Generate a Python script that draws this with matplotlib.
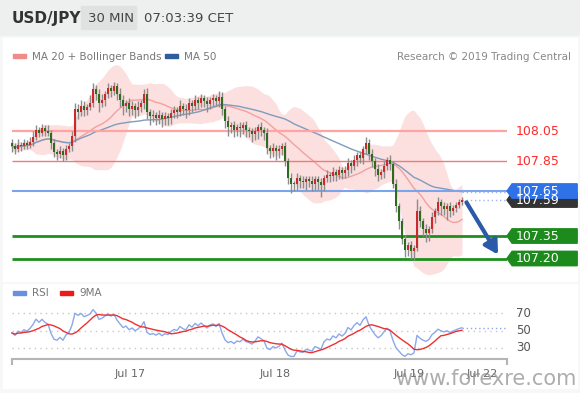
import numpy as np
import pandas as pd
import matplotlib
matplotlib.use("Agg")
import matplotlib.pyplot as plt
from matplotlib.patches import Rectangle, Polygon

# 30 min USD/JPY closes (one per bar)
closes = [
    107.95, 107.93, 107.96, 107.95, 107.97, 107.96, 107.98, 108.01, 108.06, 108.04,
    108.07, 108.05, 108.04, 107.97, 107.91, 107.90, 107.92, 107.89, 107.93, 107.95,
    108.02, 108.20, 108.18, 108.22, 108.19, 108.21, 108.24, 108.33, 108.30, 108.24,
    108.26, 108.30, 108.34, 108.32, 108.35, 108.30, 108.26, 108.22, 108.24, 108.20,
    108.22, 108.19, 108.21, 108.24, 108.30, 108.18, 108.15, 108.16, 108.14, 108.16,
    108.13, 108.15, 108.14, 108.17, 108.19, 108.18, 108.22, 108.20, 108.19, 108.24,
    108.22, 108.26, 108.24, 108.27, 108.25, 108.23, 108.26, 108.27, 108.25, 108.28,
    108.20, 108.12, 108.08, 108.09, 108.06, 108.08, 108.07, 108.09, 108.06, 108.05,
    108.03, 108.05, 108.08, 108.06, 108.04, 107.94, 107.92, 107.94, 107.92, 107.93,
    107.95, 107.85, 107.74, 107.70, 107.70, 107.74, 107.72, 107.71, 107.73, 107.72,
    107.70, 107.73, 107.71, 107.69, 107.74, 107.76, 107.75, 107.78, 107.76, 107.79,
    107.77, 107.79, 107.84, 107.82, 107.86, 107.89, 107.87, 107.93, 107.97, 107.90,
    107.85, 107.80, 107.76, 107.78, 107.82, 107.86, 107.83, 107.70, 107.55, 107.45,
    107.33, 107.26, 107.29, 107.25, 107.27, 107.52, 107.45, 107.40, 107.37, 107.40,
    107.48, 107.52, 107.58, 107.55, 107.53, 107.55, 107.52, 107.54, 107.56, 107.58,
    107.59,
]
first_open = 107.97

# wicks in pips above / below the body
wick_hi = [
    3, 2, 4, 2, 3, 2, 3, 4, 3, 2,
    3, 2, 4, 2, 3, 2, 3, 2, 3, 2,
    3, 4, 3, 4, 3, 2, 5, 4, 3, 3,
    4, 2, 3, 2, 3, 2, 4, 3, 2, 3,
    3, 2, 4, 2, 3, 4, 2, 3, 2, 3,
    2, 3, 2, 3, 3, 2, 4, 2, 3, 3,
    2, 3, 2, 3, 2, 3, 2, 3, 2, 4,
    3, 2, 3, 2, 3, 2, 3, 2, 3, 2,
    2, 3, 2, 3, 2, 3, 2, 3, 2, 3,
    2, 3, 2, 3, 2, 3, 2, 3, 2, 2,
    3, 2, 2, 3, 2, 3, 2, 3, 2, 3,
    2, 3, 3, 2, 3, 2, 3, 2, 4, 3,
    3, 2, 3, 2, 3, 2, 3, 2, 3, 2,
    2, 3, 2, 3, 2, 8, 3, 2, 3, 2,
    3, 2, 3, 2, 3, 2, 3, 2, 2, 2,
    2,
]
wick_lo = [
    4, 3, 2, 3, 2, 3, 2, 3, 2, 3,
    2, 3, 2, 4, 3, 4, 3, 4, 3, 2,
    3, 4, 5, 3, 4, 3, 2, 3, 4, 6,
    3, 4, 3, 4, 3, 4, 5, 6, 4, 5,
    4, 5, 4, 3, 4, 5, 6, 4, 5, 4,
    5, 4, 5, 4, 3, 4, 3, 4, 5, 3,
    4, 3, 4, 3, 4, 5, 3, 4, 3, 4,
    4, 5, 6, 4, 5, 4, 6, 4, 5, 4,
    5, 4, 5, 4, 5, 4, 5, 4, 6, 5,
    4, 3, 4, 6, 5, 4, 5, 4, 5, 4,
    5, 4, 5, 8, 4, 3, 4, 3, 4, 3,
    4, 3, 4, 5, 3, 4, 3, 4, 3, 4,
    4, 5, 4, 3, 4, 3, 4, 3, 4, 5,
    3, 5, 4, 5, 6, 2, 4, 5, 6, 5,
    3, 4, 3, 6, 4, 7, 4, 3, 3, 2,
    2,
]

levels_red = [108.05, 107.85]
level_blue = 107.65
levels_green = [107.35, 107.20]
target = 107.20

date_ticks = [39.3, 87.7, 132.3, 156.7]
date_labels = ["Jul 17", "Jul 18", "Jul 19", "Jul 22"]
rsi_levels = [70, 50, 30]

# ---- derived series
c = np.array(closes)
o = np.concatenate([[first_open], c[:-1]])
hi = np.maximum(o, c) + np.array(wick_hi) / 100
lo = np.minimum(o, c) - np.array(wick_lo) / 100
x = np.arange(len(c))
s = pd.Series(c)
ma20 = s.rolling(20, min_periods=1).mean()
sd20 = s.rolling(20, min_periods=2).std().bfill()
ma50 = s.rolling(50, min_periods=1).mean()

# RSI 14 (Wilder), seeded with the average of the first 14 moves
d = np.diff(c, prepend=first_open)
g = np.clip(d, 0, None)
l = np.clip(-d, 0, None)
ag, al = g[:14].mean(), l[:14].mean()
rsi_vals = []
for i in range(len(c)):
    ag = (ag * 13 + g[i]) / 14
    al = (al * 13 + l[i]) / 14
    rsi_vals.append(100 - 100 / (1 + ag / al))
rsi = pd.Series(rsi_vals)
rsi_ma = rsi.rolling(9, min_periods=1).mean()

W, H = 580, 393
fig = plt.figure(figsize=(5.8, 3.93), dpi=100, facecolor="#eef0f0")

def fx(px):
    return px / W

def fy(py):
    return 1 - py / H

# background panels / header in pixel space
bg = fig.add_axes([0, 0, 1, 1], zorder=0)
bg.set_xlim(0, W)
bg.set_ylim(H, 0)
bg.axis("off")
bg.add_patch(Rectangle((0, 36), W, H - 36, color="#f6f7f7"))
bg.add_patch(Rectangle((3, 38), 574, 243, color="white"))
bg.add_patch(Rectangle((3, 284), 574, 104, color="white"))
bg.add_patch(Rectangle((81, 6), 55, 23, color="#e0e2e2"))
bg.text(12, 18, "USD/JPY", fontsize=11, fontweight="bold", color="#333333", va="center")
bg.text(88, 18, "30 MIN", fontsize=9.5, color="#444444", va="center")
bg.text(144, 18, "07:03:39 CET", fontsize=9.5, color="#444444", va="center")
bg.add_patch(Rectangle((13, 54), 13, 4, color="#f28a8a"))
bg.text(32, 56.5, "MA 20 + Bollinger Bands", fontsize=7.5, color="#777777", va="center")
bg.add_patch(Rectangle((165, 54), 13, 4, color="#2f5d9e"))
bg.text(184, 56.5, "MA 50", fontsize=7.5, color="#777777", va="center")
bg.text(571, 56.5, "Research \u00a9 2019 Trading Central", fontsize=7.5, color="#888888",
        va="center", ha="right")
bg.add_patch(Rectangle((13, 291), 13, 4, color="#6a8fe0"))
bg.text(32, 293.5, "RSI", fontsize=7.5, color="#777777", va="center")
bg.add_patch(Rectangle((60, 291), 13, 4, color="#ee1a1a"))
bg.text(79, 293.5, "9MA", fontsize=7.5, color="#777777", va="center")

# ---- main price panel
ax = fig.add_axes([fx(10), fy(278), fx(497), (278 - 40) / H], zorder=2)
ax.set_facecolor("none")
ax.set_xlim(-0.667, 165)
ax.set_ylim(107.07, 108.657)
ax.axis("off")

ax.fill_between(x, ma20 + 2 * sd20, ma20 - 2 * sd20, color="#fcd8d8", alpha=0.8, lw=0, zorder=1)
ax.plot(x, ma20, color="#f4a0a0", lw=1, zorder=2)
ax.plot(x, ma50, color="#7f9cbd", lw=1, zorder=2)

ax.hlines(levels_red[0], 0, 165, color="#ffa3a3", lw=1.6, zorder=3)
ax.hlines(levels_red[1], 0, 165, color="#f07a7a", lw=1, zorder=3)
ax.hlines(level_blue, 0, 165, color="#7aa5ec", lw=1.5, zorder=3)
for lv in levels_green:
    ax.hlines(lv, 0, 165, color="#1d8f1d", lw=2, zorder=3)
ax.hlines(ma50.iloc[-1], x[-1], 165, color="#9db8e8", lw=1, linestyles=(0, (1, 2)), zorder=3)
ax.hlines(c[-1], x[-1], 165, color="#9db8e8", lw=1, linestyles=(0, (1, 2)), zorder=3)

ax.vlines(x, lo, hi, color="#8c8c8c", lw=1, zorder=4)
body = c - o
body = np.where(np.abs(body) < 0.006, 0.006, body)
cols = np.where(c >= o, "#cc2a2a", "#2e6b1f")
ax.bar(x, body, bottom=o, width=0.75, color=cols, lw=0, zorder=5)

ax.annotate("", xy=(162.5, target + 0.01), xytext=(x[-1] + 1, c[-1]),
            arrowprops=dict(arrowstyle="-|>,head_width=0.45,head_length=0.8",
                            color="#2a5aa8", lw=3), zorder=6)

def tag(price, color, text_color="white"):
    ph = 0.048
    pts = [(165, price), (166.7, price + ph), (188.4, price + ph),
           (188.4, price - ph), (166.7, price - ph)]
    ax.add_patch(Polygon(pts, closed=True, color=color, clip_on=False, zorder=7))
    ax.text(168, price, "%.2f" % price, color=text_color, fontsize=9, va="center",
            clip_on=False, zorder=8)

tag(c[-1], "#333333")
tag(level_blue, "#2f72e8")
for lv in levels_green:
    tag(lv, "#1c8a1c")
for lv in levels_red:
    ax.text(168, lv, "%.2f" % lv, color="#ff2a2a", fontsize=9, va="center", clip_on=False)

# ---- RSI panel
ax2 = fig.add_axes([fx(10), fy(359), fx(497), (359 - 300) / H], zorder=2)
ax2.set_facecolor("none")
ax2.set_xlim(-0.667, 165)
ax2.set_ylim(17.4, 84.9)
for lv in rsi_levels:
    ax2.hlines(lv, 0, 165, color="#c8c8c8", lw=1, linestyles=(0, (1, 3)))
    ax2.text(168, lv, str(lv), color="#555555", fontsize=8.5, va="center", clip_on=False)
ax2.plot(x, rsi, color="#8aa8ea", lw=1)
ax2.plot(x, rsi_ma, color="#ee3030", lw=1)
ax2.hlines(rsi.iloc[-1], x[-1], 165, color="#8aa8ea", lw=1, linestyles=(0, (1, 2)))
for sp in ["top", "left", "right"]:
    ax2.spines[sp].set_visible(False)
ax2.spines["bottom"].set_color("#b5b5b5")
ax2.spines["bottom"].set_linewidth(1.5)
ax2.spines["bottom"].set_bounds(0, 165)
ax2.set_yticks([])
ax2.set_xticks(date_ticks)
ax2.set_xticklabels(date_labels, fontsize=8, color="#666666")
ax2.tick_params(axis="x", length=0, pad=7)
ax2.set_xticks([0, 165], minor=True)
ax2.tick_params(axis="x", which="minor", length=4, width=1.5, color="#b5b5b5")

bg2 = fig.add_axes([0, 0, 1, 1], zorder=3)
bg2.set_xlim(0, W)
bg2.set_ylim(H, 0)
bg2.axis("off")
bg2.text(486, 379, "www.forexre.com", fontsize=15, color="#8a8a8a", alpha=0.7,
         ha="center", va="center")

fig.savefig("out.png", dpi=100, facecolor=fig.get_facecolor())
